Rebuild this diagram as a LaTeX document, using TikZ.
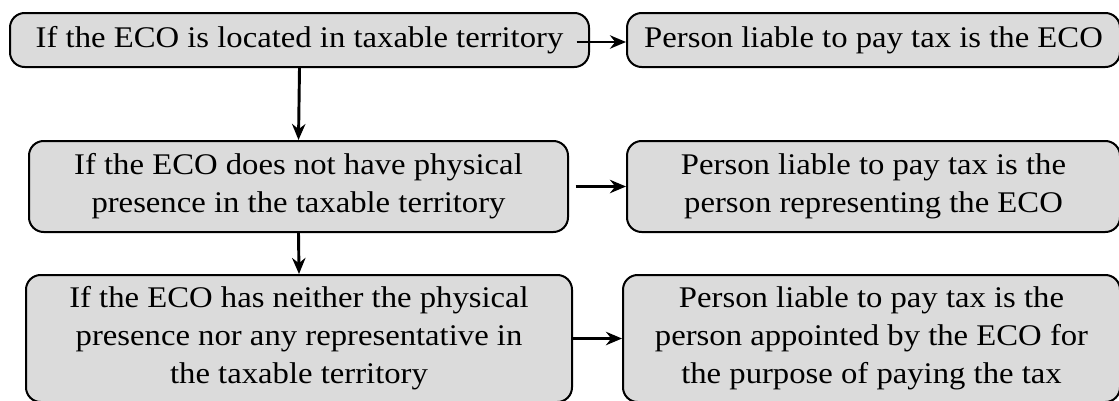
\documentclass[tikz,border=0pt]{standalone}
\usepackage{fontspec}
\setmainfont[FakeStretch=1.09]{Liberation Serif}
\usetikzlibrary{arrows.meta}
\definecolor{boxgray}{HTML}{DBDBDB}
\tikzset{
  flowbox/.style={draw=black, fill=boxgray, line width=1.5pt, rounded corners=11pt,
    inner sep=0pt, align=center, anchor=center,
    font=\fontsize{22.5}{28.5}\selectfont},
  flowarrow/.style={line width=2.2pt, -{Stealth[length=12pt,width=10pt]}}
}
\begin{document}
\begin{tikzpicture}[x=0.75pt,y=-0.75pt]
\useasboundingbox (0,0) rectangle (1119,400);
\begin{scope}
\clip (0,0) rectangle (1119,400);
\node[flowbox, minimum width=579*0.75pt, minimum height=54*0.75pt] (b1) at (299.5,40)
  {If the ECO is located in taxable territory};
\node[flowbox, minimum width=493*0.75pt, minimum height=54*0.75pt] (b2) at (873.5,40)
  {Person liable to pay tax is the ECO};
\node[flowbox, minimum width=539*0.75pt, minimum height=91*0.75pt] (b3) at (298.5,186.5)
  {If the ECO does not have physical\\presence in the taxable territory};
\node[flowbox, minimum width=493*0.75pt, minimum height=91*0.75pt] (b4) at (873.5,186.5)
  {Person liable to pay tax is the\\person representing the ECO};
\node[flowbox, minimum width=546*0.75pt, minimum height=127*0.75pt] (b5) at (299,338.5)
  {If the ECO has neither the physical\\presence nor any representative in\\the taxable territory};
\node[flowbox, minimum width=497*0.75pt, minimum height=127*0.75pt] (b6) at (871.5,338.5)
  {Person liable to pay tax is the\\person appointed by the ECO for\\the purpose of paying the tax};
\end{scope}
\draw[flowarrow] ([xshift=-10pt,yshift=-1.5pt]b1.east) -- ([yshift=-1.5pt]b2.west);
\draw[flowarrow] ([xshift=5pt]b3.east) -- (b4.west);
\draw[flowarrow] (b5.east) -- (b6.west);
\draw[flowarrow] (b1.south) -- (b3.north);
\draw[flowarrow] (b3.south) -- (b5.north);
\end{tikzpicture}
\end{document}
